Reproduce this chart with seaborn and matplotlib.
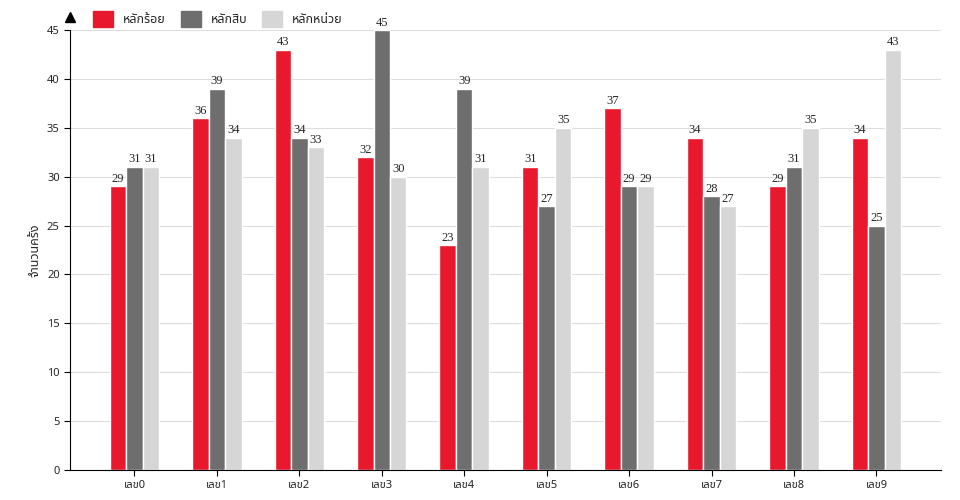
import matplotlib
matplotlib.use("Agg")
import matplotlib.pyplot as plt
import seaborn as sns
import pandas as pd
from matplotlib.patches import Patch

categories = ["เลข0","เลข1","เลข2","เลข3","เลข4","เลข5","เลข6","เลข7","เลข8","เลข9"]
series = ["หลักร้อย","หลักสิบ","หลักหน่วย"]
hundreds = [29,36,43,32,23,31,37,34,29,34]
tens = [31,39,34,45,39,27,29,28,31,25]
units = [31,34,33,30,31,35,29,27,35,43]
colors = ["#e8192c","#6e6e6e","#d6d6d6"]

sns.set_style("white")
fam = ["Noto Sans Thai","Noto Sans","Liberation Serif","DejaVu Sans"]
plt.rcParams['font.family'] = fam

df = pd.DataFrame({"cat": categories*3,
                   "series": [series[0]]*10+[series[1]]*10+[series[2]]*10,
                   "val": hundreds+tens+units})

fig = plt.figure(figsize=(9.6,5.0), dpi=100)
ax = fig.add_axes([0.073, 0.06, 0.907, 0.88])
sns.barplot(data=df, x="cat", y="val", hue="series", palette=colors, ax=ax,
            width=0.6, saturation=1, legend=False)
for c in ax.containers:
    ax.bar_label(c, fontsize=9, family="Liberation Serif", padding=1)
ax.set_ylim(0,45)
ax.set_yticks(range(0,46,5))
ax.yaxis.grid(True, color="#dddddd", lw=0.8)
ax.set_axisbelow(True)
for s in ["top","right"]:
    ax.spines[s].set_visible(False)
ax.spines["left"].set_color("black"); ax.spines["bottom"].set_color("black")
ax.tick_params(axis="both", labelsize=8, length=4, color="black", left=True, bottom=True)
ax.set_xlabel("")
ax.set_ylabel("จำนวนครั้ง", fontsize=9)
ax.plot(0, 1.03, marker="^", color="black", transform=ax.transAxes, clip_on=False, markersize=7)
handles = [Patch(color=c) for c in colors]
fig.legend(handles, series, loc="upper left", bbox_to_anchor=(0.085, 1.0), ncol=3,
           frameon=False, fontsize=9, handlelength=1.6, handleheight=1.6, columnspacing=1.2)
fig.savefig("out.png")
